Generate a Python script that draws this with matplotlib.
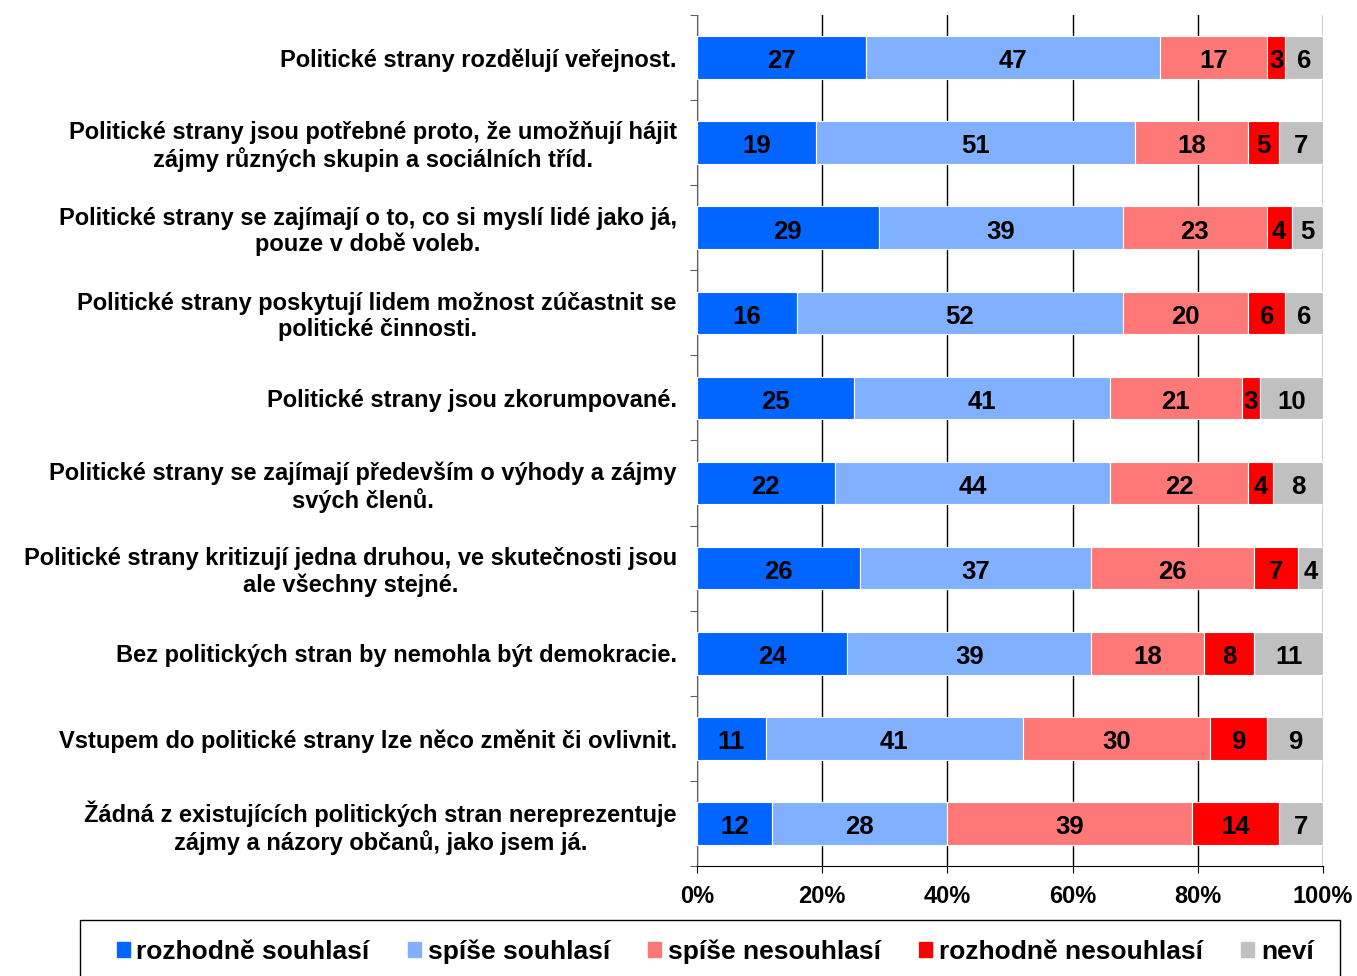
import matplotlib.pyplot as plt
import matplotlib.patches as mpatches
import numpy as np

categories = [
    "Politické strany rozdělují veřejnost.",
    "Politické strany jsou potřebné proto, že umožňují hájit\nzájmy různých skupin a sociálních tříd.",
    "Politické strany se zajímají o to, co si myslí lidé jako já,\npouze v době voleb.",
    "Politické strany poskytují lidem možnost zúčastnit se\npolitické činnosti.",
    "Politické strany jsou zkorumpované.",
    "Politické strany se zajímají především o výhody a zájmy\nsvých členů.",
    "Politické strany kritizují jedna druhou, ve skutečnosti jsou\nale všechny stejné.",
    "Bez politických stran by nemohla být demokracie.",
    "Vstupem do politické strany lze něco změnit či ovlivnit.",
    "Žádná z existujících politických stran nereprezentuje\nzájmy a názory občanů, jako jsem já.",
]

series_names = ["rozhodně souhlasí", "spíše souhlasí", "spíše nesouhlasí",
                "rozhodně nesouhlasí", "neví"]

rozhodne_souhlasi = [27, 19, 29, 16, 25, 22, 26, 24, 11, 12]
spise_souhlasi = [47, 51, 39, 52, 41, 44, 37, 39, 41, 28]
spise_nesouhlasi = [17, 18, 23, 20, 21, 22, 26, 18, 30, 39]
rozhodne_nesouhlasi = [3, 5, 4, 6, 3, 4, 7, 8, 9, 14]
nevi = [6, 7, 5, 6, 10, 8, 4, 11, 9, 7]

colors = ["#0066FF", "#80B0FF", "#FF7878", "#FF0000", "#C0C0C0"]

x_ticks = [0, 20, 40, 60, 80, 100]
x_tick_labels = ["0%", "20%", "40%", "60%", "80%", "100%"]

plt.rcParams['font.family'] = ['Liberation Sans', 'DejaVu Sans']

fig = plt.figure(figsize=(13.57, 9.76), dpi=100)
ax = fig.add_axes([697 / 1357, 1 - 866 / 976, (1323 - 697) / 1357, (866 - 15) / 976])

data = np.array([rozhodne_souhlasi, spise_souhlasi, spise_nesouhlasi,
                 rozhodne_nesouhlasi, nevi], dtype=float)
y = np.arange(len(categories))
left = np.zeros(len(categories))

for vals, name, col in zip(data, series_names, colors):
    ax.barh(y, vals, left=left, height=0.5, color=col, edgecolor='white',
            linewidth=0.8, label=name, zorder=3)
    for yi, (l, v) in enumerate(zip(left, vals)):
        ax.text(l + v / 2, yi + 0.045, f"{int(v)}", ha='center', va='center',
                fontsize=18.5, fontweight='bold', zorder=4)
    left += vals

ax.set_xlim(0, 100)
ax.set_ylim(len(categories) - 0.5, -0.5)
ax.set_xticks(x_ticks)
ax.set_xticklabels(x_tick_labels, fontsize=17, fontweight='bold')
ax.grid(axis='x', color='black', linewidth=1, zorder=0)

# category labels sit between tick marks at boundaries
ax.set_yticks(np.arange(len(categories) + 1) - 0.5)
ax.set_yticklabels([])
ax.set_yticks(y, minor=True)
ax.set_yticklabels(categories, minor=True, fontsize=17, fontweight='bold',
                   multialignment='center', linespacing=1.15)
ax.tick_params(axis='y', which='minor', length=0, pad=14.5)
ax.tick_params(axis='y', which='major', length=5, color='#606060')
ax.tick_params(axis='x', length=5, pad=9)

ax.spines['top'].set_visible(False)
ax.spines['right'].set_visible(False)
ax.spines['left'].set_color('#606060')

# legend box, cut by the bottom edge as in the original
fig.patches.append(mpatches.Rectangle((80 / 1357, -0.05), (1340 - 80) / 1357, 0.05 + (976 - 920) / 976,
                                      transform=fig.transFigure, fill=False,
                                      edgecolor='black', linewidth=1))
handles = [mpatches.Patch(color=c) for c in colors]
fig.legend(handles, series_names, loc='center', bbox_to_anchor=(0.527, 1 - 952 / 976),
           ncol=5, frameon=False, prop={'weight': 'bold', 'size': 19},
           handlelength=0.5, handleheight=0.5, handletextpad=0.25, columnspacing=1.45)

fig.savefig("out.png", dpi=100)
